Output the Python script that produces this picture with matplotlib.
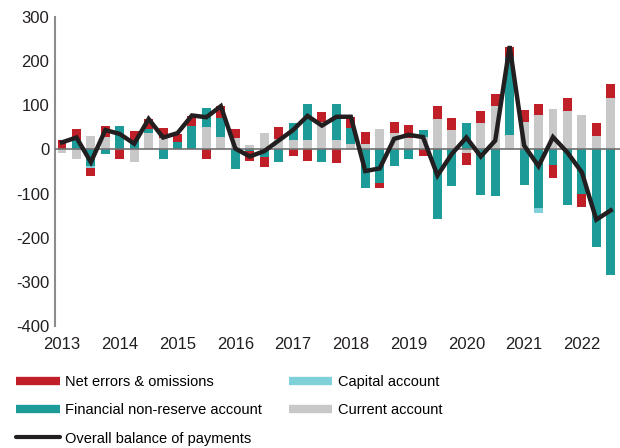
import numpy as np
import matplotlib
matplotlib.use("Agg")
import matplotlib.pyplot as plt
from matplotlib.lines import Line2D

plt.rcParams["font.family"] = ["Liberation Sans", "DejaVu Sans"]
plt.rcParams["axes.unicode_minus"] = False

# quarterly data, 2013Q1 .. 2022Q3
years = [str(y) for y in range(2013, 2023)]
current = [-7, -21, 30, 29, 0, -29, 37, 26, 2, 0, 50, 29, 25, 10, 37, 23, 22, 22, 63, 22,
           12, 13, 46, 37, 26, 29, 69, 43, -7, 61, 99, 33, 63, 78, 92, 87, 78, 31, 116]
financial = [0, 22, -38, -10, 54, 22, 9, -21, 14, 53, 43, 43, -44, -4, -17, -29, 39, 81, -29, 82,
             36, -87, -75, -38, -22, 14, -157, -82, 61, -104, -106, 177, -80, -133, -35, -125, -102, -221, -285]
capital = [0, 0, -4, 0, 0, 0, 0, 0, 0, 0, 0, 0, 0, 0, 0, 0, 0, 0, 0, 0,
           0, 0, 0, 0, 0, 0, 0, 0, 0, 0, 0, 0, 0, -10, 0, 0, 0, 0, 0]
net_errors = [22, 24, -18, 24, -22, 19, 23, 23, 20, 23, -22, 26, 22, -22, -23, 27, -16, -27, 21, -31,
              26, 26, -13, 25, 29, -16, 29, 29, -28, 26, 26, 23, 27, 26, -29, 30, -29, 30, 32]
overall = [16, 27, -29, 44, 35, 13, 69, 27, 37, 77, 73, 98, 2, -16, -4, 20, 44, 76, 54, 74,
           74, -49, -43, 24, 33, 28, -59, -10, 27, -16, 20, 234, 9, -38, 28, -7, -52, -159, -138]

series = [
    ("Current account", current, "#c8c8c9"),
    ("Financial non-reserve account", financial, "#1d9b98"),
    ("Capital account", capital, "#80d0d9"),
    ("Net errors & omissions", net_errors, "#c01f28"),
]

fig = plt.figure(figsize=(6.2, 4.48), dpi=100)
ax = fig.add_axes([55 / 620, 122 / 448, 565 / 620, 309 / 448])

x = np.arange(len(overall))
pos_base = np.zeros(len(x))
neg_base = np.zeros(len(x))
for name, vals, col in series:
    v = np.array(vals, dtype=float)
    base = np.where(v >= 0, pos_base, neg_base)
    ax.bar(x, v, bottom=base, width=0.62, color=col, linewidth=0, zorder=2)
    pos_base += np.where(v >= 0, v, 0)
    neg_base += np.where(v < 0, v, 0)

ax.axhline(0, color="#707070", lw=1.2, zorder=3)
ax.plot(x, overall, color="#231f20", lw=3.2, zorder=4, solid_joinstyle="miter")

ax.set_xlim(-0.485, 38.64)
ax.set_ylim(-400, 300)
ax.set_yticks(range(-400, 301, 100))
ax.set_xticks(x[::4])
ax.set_xticklabels(years)
ax.tick_params(axis="both", length=0, labelsize=12, colors="#231f20")
ax.tick_params(axis="y", pad=4)
ax.tick_params(axis="x", pad=8)
for s in ["top", "right", "bottom"]:
    ax.spines[s].set_visible(False)
ax.spines["left"].set_color("#8c8c8c")
ax.spines["left"].set_linewidth(1.5)

handles = [
    Line2D([], [], color="#c01f28", lw=6, solid_capstyle="butt"),
    Line2D([], [], color="#1d9b98", lw=6, solid_capstyle="butt"),
    Line2D([], [], color="#231f20", lw=3, solid_capstyle="round"),
    Line2D([], [], color="#80d0d9", lw=6, solid_capstyle="butt"),
    Line2D([], [], color="#c8c8c9", lw=6, solid_capstyle="butt"),
]
labels = ["Net errors & omissions", "Financial non-reserve account",
          "Overall balance of payments", "Capital account", "Current account"]
fig.legend(handles, labels, ncol=2, loc="upper left", bbox_to_anchor=(16 / 620, 1 - 375 / 448),
           frameon=False, fontsize=10.5, handlelength=3.0, handletextpad=0.35,
           columnspacing=1.85, labelspacing=0.98, borderpad=0, borderaxespad=0)

fig.savefig("out.png", dpi=100)
